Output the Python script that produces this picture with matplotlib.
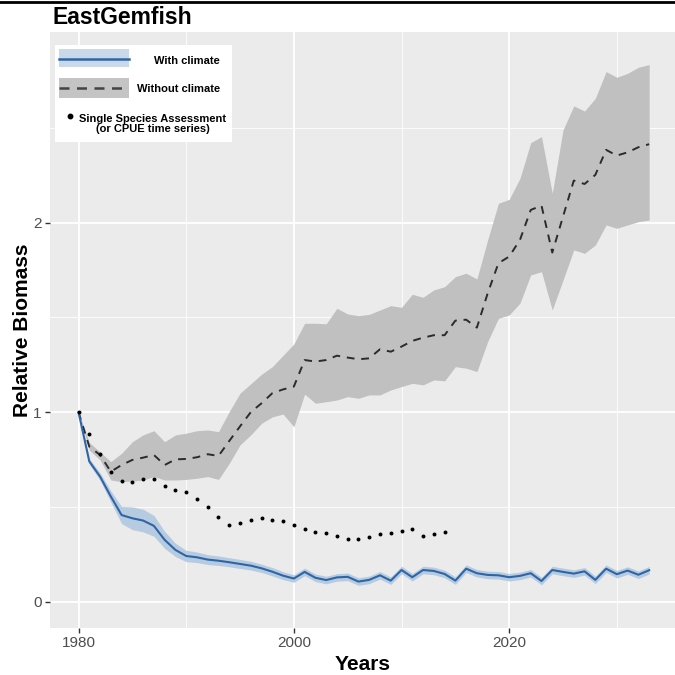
import matplotlib
matplotlib.use("Agg")
import matplotlib.pyplot as plt
from matplotlib.patches import Rectangle
from matplotlib.lines import Line2D
import numpy as np

plt.rcParams['font.family'] = ['Liberation Sans', 'DejaVu Sans']

# ---------------- data ----------------
years = list(range(1980, 2034))

with_climate = [1.0, 0.74, 0.66, 0.555, 0.457, 0.44, 0.428, 0.40, 0.326, 0.273,
                0.241, 0.234, 0.222, 0.216, 0.208, 0.199, 0.19, 0.176, 0.158, 0.137,
                0.122, 0.157, 0.126, 0.114, 0.128, 0.131, 0.106, 0.115, 0.139, 0.111,
                0.167, 0.129, 0.167, 0.162, 0.146, 0.111, 0.174, 0.15, 0.141, 0.139,
                0.129, 0.136, 0.15, 0.109, 0.167, 0.157, 0.148, 0.16, 0.115, 0.174,
                0.145, 0.164, 0.142, 0.166]

with_halfwidth = [0.0, 0.015, 0.02, 0.03, 0.045, 0.06, 0.06, 0.055, 0.045, 0.035,
                  0.03, 0.028, 0.026, 0.025, 0.024, 0.024, 0.023, 0.022, 0.022, 0.021,
                  0.02, 0.02, 0.02, 0.02, 0.02, 0.02, 0.02, 0.02, 0.02, 0.02,
                  0.02, 0.02, 0.02, 0.02, 0.02, 0.02, 0.02, 0.02, 0.02, 0.02,
                  0.02, 0.02, 0.02, 0.02, 0.02, 0.02, 0.02, 0.02, 0.02, 0.02,
                  0.02, 0.02, 0.02, 0.02]

without_climate = [1.0, 0.818, 0.774, 0.686, 0.721, 0.748, 0.76, 0.774, 0.721, 0.751,
                   0.753, 0.762, 0.778, 0.769, 0.848, 0.925, 1.0, 1.047, 1.1, 1.12,
                   1.135, 1.275, 1.267, 1.275, 1.298, 1.288, 1.279, 1.284, 1.332, 1.319,
                   1.346, 1.376, 1.393, 1.406, 1.406, 1.483, 1.488, 1.446, 1.627, 1.786,
                   1.821, 1.909, 2.067, 2.09, 1.842, 2.032, 2.222, 2.204, 2.252, 2.384,
                   2.354, 2.371, 2.398, 2.414]

without_upper = [1.0, 0.84, 0.79, 0.739, 0.783, 0.844, 0.88, 0.902, 0.844, 0.88,
                 0.889, 0.902, 0.906, 0.897, 1.003, 1.1, 1.15, 1.2, 1.24, 1.3,
                 1.36, 1.469, 1.469, 1.466, 1.548, 1.518, 1.509, 1.516, 1.539, 1.562,
                 1.553, 1.622, 1.606, 1.645, 1.662, 1.715, 1.733, 1.703, 1.909, 2.102,
                 2.123, 2.234, 2.422, 2.454, 2.155, 2.489, 2.616, 2.589, 2.656, 2.797,
                 2.767, 2.788, 2.82, 2.834]

without_lower = [1.0, 0.80, 0.748, 0.642, 0.633, 0.636, 0.642, 0.66, 0.642, 0.642,
                 0.645, 0.651, 0.66, 0.645, 0.73, 0.827, 0.88, 0.941, 0.975, 0.99,
                 0.923, 1.095, 1.047, 1.055, 1.064, 1.082, 1.073, 1.091, 1.091, 1.117,
                 1.135, 1.152, 1.144, 1.17, 1.165, 1.24, 1.232, 1.214, 1.372, 1.495,
                 1.513, 1.575, 1.724, 1.741, 1.539, 1.697, 1.856, 1.838, 1.882, 1.988,
                 1.97, 1.988, 2.005, 2.014]

ssa_years = list(range(1980, 2015))
ssa_values = [1.0, 0.885, 0.779, 0.683, 0.639, 0.633, 0.647, 0.647, 0.611, 0.589,
              0.579, 0.544, 0.498, 0.445, 0.405, 0.414, 0.431, 0.44, 0.431, 0.425,
              0.403, 0.385, 0.369, 0.361, 0.348, 0.333, 0.329, 0.34, 0.356, 0.364,
              0.375, 0.384, 0.348, 0.356, 0.366]

x_ticks = [1980, 2000, 2020]
x_minor = [1990, 2010, 2030]
y_ticks = [0, 1, 2]
y_minor = [0.5, 1.5, 2.5]

title = "EastGemfish"
legend_labels = ["With climate", "Without climate",
                 "Single Species Assessment\n(or CPUE time series)"]

# ---------------- figure ----------------
W = H = 675
fig = plt.figure(figsize=(6.75, 6.75), dpi=100)
fig.patch.set_facecolor('white')

L, R, T, B = 50, 675, 32, 628
ax = fig.add_axes([L / W, (H - B) / H, (R - L) / W, (B - T) / H])
ax.set_facecolor('#EBEBEB')
for s in ax.spines.values():
    s.set_visible(False)

ax.set_xlim(1977.35, 2035.4)
ax.set_ylim(-0.139, 3.006)

ax.set_xticks(x_ticks)
ax.set_xticks(x_minor, minor=True)
ax.set_yticks(y_ticks)
ax.set_yticks(y_minor, minor=True)
ax.set_xticklabels([str(v) for v in x_ticks])
ax.set_yticklabels([str(v) for v in y_ticks])
ax.grid(True, which='major', color='white', lw=1.3)
ax.grid(True, which='minor', color='white', lw=0.6)
ax.set_axisbelow(True)
ax.tick_params(which='major', length=3.5, width=1.0, color='#333333',
               labelsize=11, labelcolor='#4D4D4D', pad=2.5)
ax.tick_params(which='minor', length=0)

yrs = np.array(years)
wc = np.array(with_climate)
hw = np.array(with_halfwidth)

ax.fill_between(yrs, without_lower, without_upper, color='#C0C0C0', lw=0, zorder=2)
ax.fill_between(yrs, wc - hw, wc + hw, color='#AEC6DF', alpha=0.85, lw=0, zorder=3)
ax.plot(yrs, without_climate, color='#2B2B2B', lw=1.4, ls=(0, (4, 3.5)), zorder=4)
ax.plot(yrs, wc, color='#2E65A6', lw=1.5, zorder=5)
ax.scatter(ssa_years, ssa_values, s=8, color='black', lw=0, zorder=6)

ax.set_xlabel("Years", fontsize=15, fontweight='bold', labelpad=3)
ax.set_ylabel("Relative Biomass", fontsize=15, fontweight='bold', labelpad=1)
fig.text(52 / W, 1 - 18 / H, title, fontsize=16.5, fontweight='bold',
         ha='left', va='center')

# top border line
fig.add_artist(Line2D([0, 1], [1 - 1.5 / H, 1 - 1.5 / H], color='black', lw=2,
                      transform=fig.transFigure))

# ---------------- legend (manual) ----------------
def fx(px):
    return px / W
def fy(py):
    return 1 - py / H

tr = fig.transFigure
fig.add_artist(Rectangle((fx(55), fy(142)), fx(232) - fx(55), fy(45) - fy(142),
                         facecolor='white', edgecolor='none', transform=tr, zorder=10))
# key 1
fig.add_artist(Rectangle((fx(59), fy(67)), fx(129) - fx(59), fy(49) - fy(67),
                         facecolor='#C9D9EA', edgecolor='none', transform=tr, zorder=11))
fig.add_artist(Line2D([fx(59), fx(129)], [fy(58.5), fy(58.5)], color='#2E65A6', lw=1.8,
                      transform=tr, zorder=12))
fig.text(fx(220), fy(60.5), legend_labels[0], fontsize=8, fontweight='bold',
         ha='right', va='center', zorder=12)
# key 2
fig.add_artist(Rectangle((fx(59), fy(98)), fx(129) - fx(59), fy(78) - fy(98),
                         facecolor='#C4C4C4', edgecolor='none', transform=tr, zorder=11))
fig.add_artist(Line2D([fx(59), fx(129)], [fy(88), fy(88)], color='#444444', lw=1.8,
                      ls=(0, (4, 3)), transform=tr, zorder=12))
fig.text(fx(220), fy(88.5), legend_labels[1], fontsize=8, fontweight='bold',
         ha='right', va='center', zorder=12)
# key 3
fig.add_artist(Line2D([fx(69.5)], [fy(116)], marker='o', markersize=3.2,
                      color='black', lw=0, transform=tr, zorder=12))
fig.text(fx(153), fy(123.5), legend_labels[2], fontsize=8, fontweight='bold',
         ha='center', va='center', linespacing=1.0, zorder=12)

fig.savefig("out.png", dpi=100, facecolor='white')
